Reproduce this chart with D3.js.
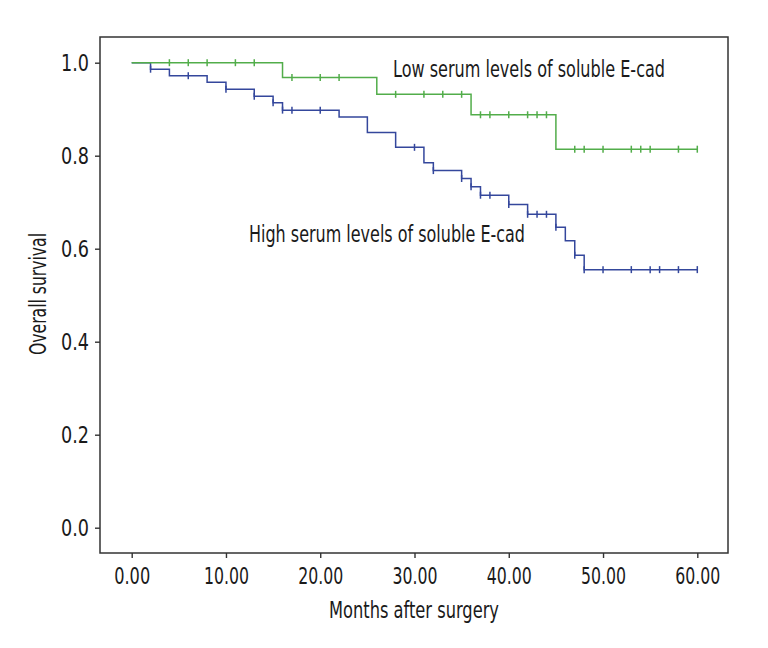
<!DOCTYPE html>
<html>
<head>
<meta charset="utf-8">
<script src="https://cdn.jsdelivr.net/npm/d3@7"></script>
<style>
  body { margin: 0; background: #fff; }
  text { font-family: "Liberation Sans Narrow", "DejaVu Sans Condensed", "Roboto", sans-serif; fill: #1a1a1a; }
</style>
</head>
<body>
<div id="chart"></div>
<script>
// Kaplan-Meier steps
var lowTimes = [0, 16, 26, 36, 45, 60];
var lowSurv = [1.0, 0.968, 0.932, 0.888, 0.814, 0.814];
var lowCensored = [4, 6, 8, 11, 13, 17, 20, 22, 28, 31, 33, 35, 37, 38, 40, 42, 43, 44, 47, 48, 50, 53, 54, 55, 58, 60];

var highTimes = [0, 2, 4, 8, 10, 13, 15, 16, 22, 25, 28, 31, 32, 35, 36, 37, 40, 42, 45, 46, 47, 48, 60];
var highSurv = [1.0, 0.986, 0.972, 0.958, 0.943, 0.928, 0.914, 0.898, 0.883, 0.850, 0.818, 0.785, 0.768, 0.751, 0.733, 0.715, 0.695, 0.674, 0.646, 0.617, 0.586, 0.555, 0.555];
var highCensored = [2, 6, 10, 13, 15, 16, 17, 20, 30, 32, 35, 36, 37, 38, 40, 42, 43, 44, 45, 47, 48, 50, 53, 55, 56, 58, 60];

var xTicks = [0, 10, 20, 30, 40, 50, 60];
var yTicks = [0, 0.2, 0.4, 0.6, 0.8, 1.0];

var svgWidth = 768;
var svgHeight = 648;

// plot frame
var box = { left: 100, top: 37, right: 728, bottom: 553 };

var svg = d3.select("#chart")
  .append("svg")
  .attr("width", svgWidth)
  .attr("height", svgHeight);

var x = d3.scaleLinear().domain([0, 60]).range([131.7, 697.3]);
var y = d3.scaleLinear().domain([0, 1]).range([527.7, 62.7]);

// axes
var xAxis = svg.append("g")
  .attr("transform", `translate(0, ${box.bottom})`)
  .call(d3.axisBottom(x).tickValues(xTicks).tickFormat(d3.format(".2f")).tickSize(5));

var yAxis = svg.append("g")
  .attr("transform", `translate(${box.left}, 0)`)
  .call(d3.axisLeft(y).tickValues(yTicks).tickFormat(d3.format(".1f")).tickSize(5));

svg.selectAll(".domain").remove();
svg.selectAll(".tick line").attr("stroke", "#333").attr("stroke-width", 1.4);

// condensed look: squeeze the labels to the widths seen in the figure
xAxis.selectAll("text")
  .attr("y", 31)
  .attr("dy", null)
  .attr("textLength", d => d >= 10 ? 45 : 36)
  .attr("lengthAdjust", "spacingAndGlyphs")
  .style("font-size", "23px");

yAxis.selectAll("text")
  .attr("x", -11)
  .attr("dy", "0.36em")
  .attr("textLength", 28)
  .attr("lengthAdjust", "spacingAndGlyphs")
  .style("font-size", "23px");

svg.append("rect")
  .attr("x", box.left)
  .attr("y", box.top)
  .attr("width", box.right - box.left)
  .attr("height", box.bottom - box.top)
  .attr("fill", "none")
  .attr("stroke", "#333")
  .attr("stroke-width", 1.5);

// survival curves
function survAt(times, surv, t) {
  var i = d3.bisectRight(times, t) - 1;
  return surv[Math.max(0, i)];
}

var line = d3.line()
  .x(d => x(d[0]))
  .y(d => y(d[1]))
  .curve(d3.curveStepAfter);

function drawGroup(times, surv, censored, color) {
  var pts = times.map((t, i) => [t, surv[i]]);
  svg.append("path")
    .datum(pts)
    .attr("d", line)
    .attr("fill", "none")
    .attr("stroke", color)
    .attr("stroke-width", 1.5);

  svg.append("g")
    .selectAll("line")
    .data(censored)
    .enter()
    .append("line")
    .attr("x1", d => x(d))
    .attr("x2", d => x(d))
    .attr("y1", d => y(survAt(times, surv, d)) - 3.5)
    .attr("y2", d => y(survAt(times, surv, d)) + 3.5)
    .attr("stroke", color)
    .attr("stroke-width", 1.5);
}

drawGroup(highTimes, highSurv, highCensored, "#34479c");
drawGroup(lowTimes, lowSurv, lowCensored, "#52ad4a");

// labels
svg.append("text")
  .attr("x", 393)
  .attr("y", 77)
  .attr("textLength", 272)
  .attr("lengthAdjust", "spacingAndGlyphs")
  .style("font-size", "23px")
  .text("Low serum levels of soluble E-cad");

svg.append("text")
  .attr("x", 249)
  .attr("y", 242)
  .attr("textLength", 276)
  .attr("lengthAdjust", "spacingAndGlyphs")
  .style("font-size", "23px")
  .text("High serum levels of soluble E-cad");

svg.append("text")
  .attr("x", 414)
  .attr("y", 618)
  .attr("text-anchor", "middle")
  .attr("textLength", 170)
  .attr("lengthAdjust", "spacingAndGlyphs")
  .style("font-size", "23px")
  .text("Months after surgery");

svg.append("text")
  .attr("transform", "translate(46, 294) rotate(-90)")
  .attr("text-anchor", "middle")
  .attr("textLength", 122)
  .attr("lengthAdjust", "spacingAndGlyphs")
  .style("font-size", "23px")
  .text("Overall survival");
</script>
</body>
</html>
